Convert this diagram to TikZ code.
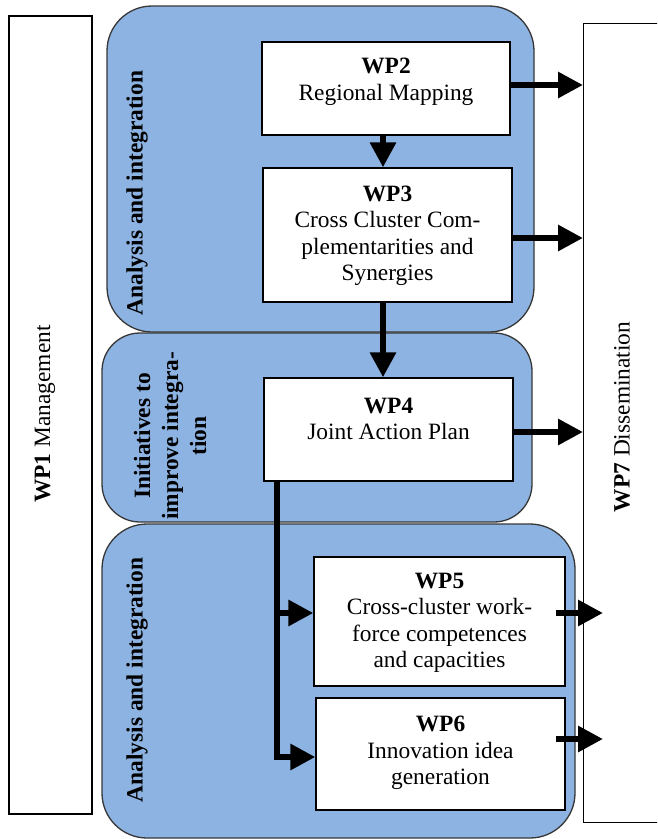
\documentclass[tikz,border=0pt]{standalone}
\usepackage{fontspec}
\IfFontExistsTF{LiberationSerif-Regular.ttf}
  {\setmainfont{LiberationSerif}[Extension=.ttf,UprightFont=*-Regular,BoldFont=*-Bold,ItalicFont=*-Italic,BoldItalicFont=*-BoldItalic]}
  {\setmainfont{Liberation Serif}}
\usetikzlibrary{arrows.meta}
\definecolor{panelblue}{RGB}{141,179,226}
\definecolor{paneledge}{RGB}{55,55,55}
\begin{document}
\begin{tikzpicture}[x=1pt,y=-1pt,
  panel/.style={draw=paneledge,line width=1.3pt,fill=panelblue,rounded corners=#1,inner sep=0pt},
  wpbox/.style={draw=black,line width=1.3pt,fill=white,inner sep=0pt},
  txt/.style={font=\fontsize{23.4}{26.5}\selectfont,align=center,inner sep=0pt},
  lbl/.style={font=\fontsize{23.4}{28}\selectfont\bfseries,align=center,inner sep=0pt,rotate=90},
  arr/.style={line width=6pt,-{Triangle[length=25pt,width=25pt]}}]
\clip (0,0) rectangle (657,839);
\fill[white] (0,0) rectangle (657,839);
% side boxes
\node[wpbox,minimum width=83pt,minimum height=798pt] (wp1) at (50.5,415) {};
\node[wpbox,minimum width=150pt,minimum height=799pt,anchor=north west] (wp7) at (583,23) {};
\node[txt,rotate=90] (t1) at (45,414) {\textbf{WP1} Management};
\node[txt,rotate=90] (t7) at (622,417) {\textbf{WP7} Dissemination};
% panels
\node[panel=45pt,minimum width=427pt,minimum height=326pt] (p1) at (320.5,169) {};
\node[panel=38pt,minimum width=430pt,minimum height=189pt] (p2) at (317,427.5) {};
\node[panel=45pt,minimum width=473pt,minimum height=314pt] (p3) at (338.5,681) {};
\node[lbl] (l1) at (137,193) {Analysis and integration};
\node[lbl] (l2) at (170,436) {Initiatives to\\improve integra-\\tion};
\node[lbl] (l3) at (137,680) {Analysis and integration};
% work package boxes
\node[wpbox,minimum width=248pt,minimum height=93pt] (wp2) at (386,88.5) {};
\node[txt] (t2) at (386,82) {\textbf{WP2}\\Regional Mapping};
\node[wpbox,minimum width=249pt,minimum height=134pt] (wp3) at (387.5,235) {};
\node[txt] (t3) at (387.5,236) {\textbf{WP3}\\Cross Cluster Com-\\plementarities and\\Synergies};
\node[wpbox,minimum width=249pt,minimum height=103pt] (wp4) at (388.5,429.5) {};
\node[txt] (t4) at (388.5,419) {\textbf{WP4}\\Joint Action Plan};
\node[wpbox,minimum width=251pt,minimum height=129pt] (wp5) at (439.5,621.5) {};
\node[txt] (t5) at (439.5,623) {\textbf{WP5}\\Cross-cluster work-\\force competences\\and capacities};
\node[wpbox,minimum width=249pt,minimum height=112pt] (wp6) at (440.5,754) {};
\node[txt] (t6) at (440.5,753) {\textbf{WP6}\\Innovation idea\\generation};
% connectors
\draw[arr] ([xshift=-3pt]wp2.south) -- ([xshift=-3pt]wp2.south |- wp3.north);
\draw[arr] ([xshift=-4.5pt]wp3.south) -- ([xshift=-4.5pt]wp3.south |- wp4.north);
\draw[arr] ([yshift=3.5pt]wp2.east) -- ([yshift=3.5pt]wp2.east -| wp7.west);
\draw[arr] ([yshift=-3pt]wp3.east) -- ([yshift=-3pt]wp3.east -| wp7.west);
\draw[arr] ([yshift=-2.5pt]wp4.east) -- ([yshift=-2.5pt]wp4.east -| wp7.west);
\coordinate (s5) at ([xshift=-10pt,yshift=8.5pt]wp5.east);
\coordinate (e5) at ([xshift=20pt]s5 -| wp7.west);
\draw[arr] (s5) -- (e5);
\coordinate (s6) at ([xshift=-10pt,yshift=15pt]wp6.east);
\coordinate (e6) at ([xshift=20pt]s6 -| wp7.west);
\draw[arr] (s6) -- (e6);
\coordinate (br) at ([xshift=14pt]wp4.south west);
\draw[arr] (br) |- ([yshift=8.5pt]wp5.west);
\draw[arr] (br) |- ([yshift=-3pt]wp6.west);
\end{tikzpicture}
\end{document}
